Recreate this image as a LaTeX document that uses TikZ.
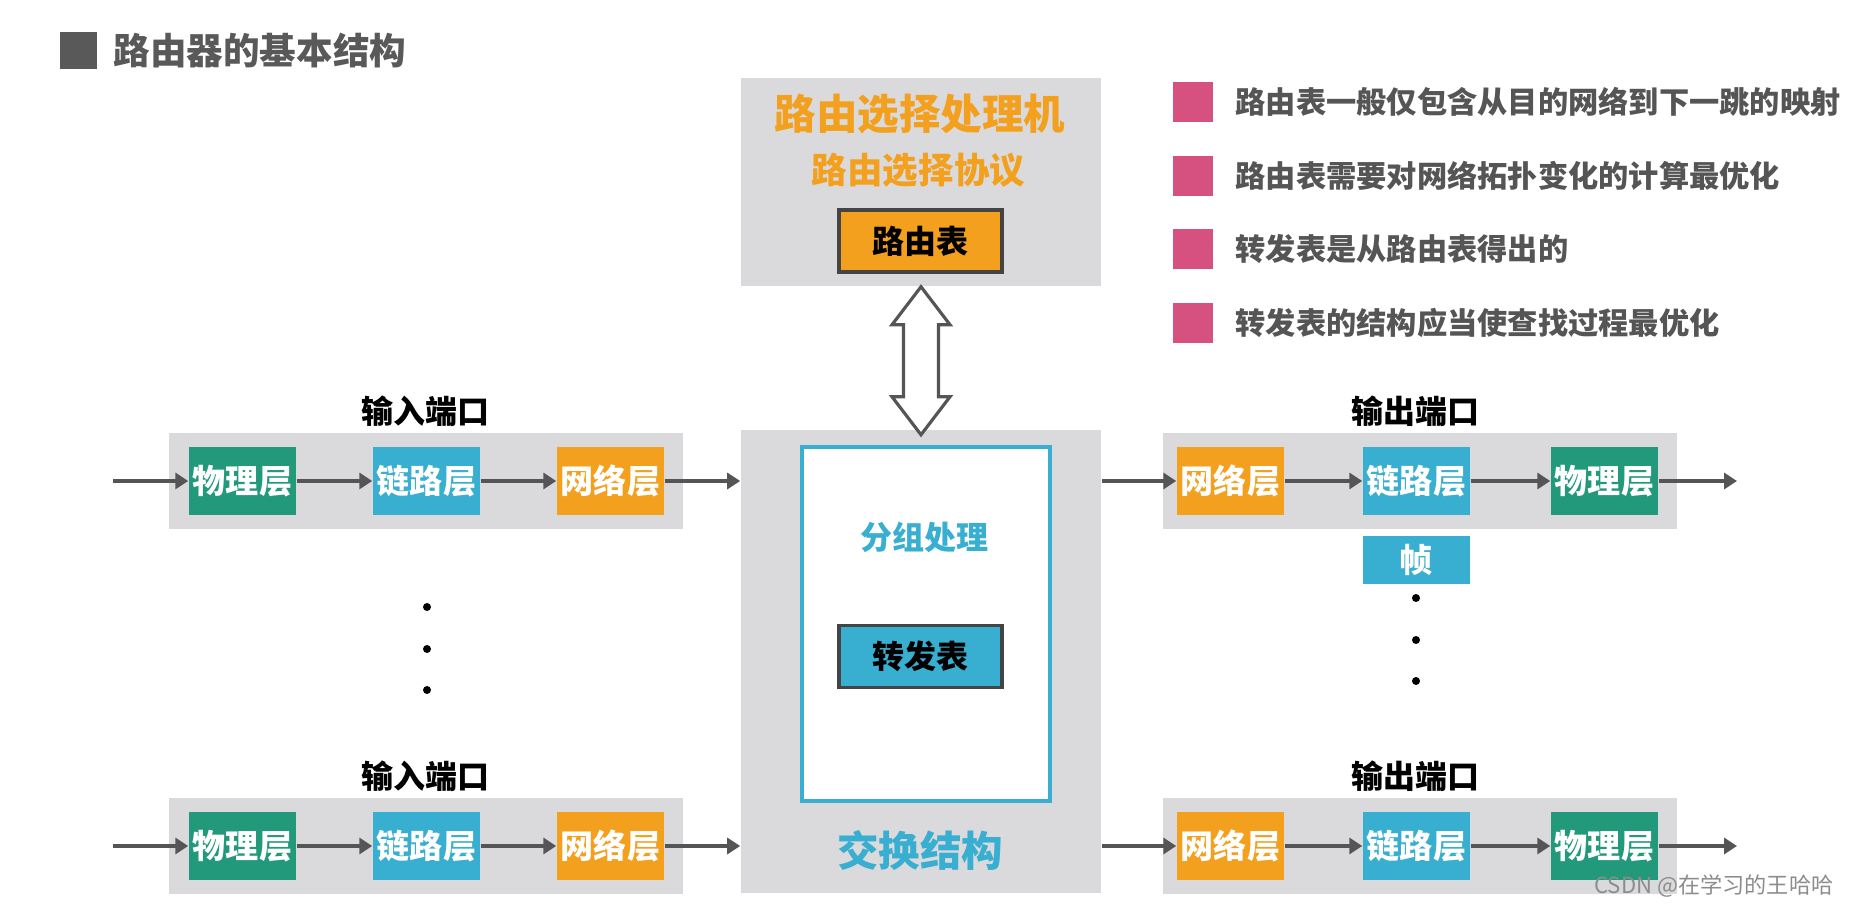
\documentclass[tikz,border=0pt]{standalone}
\usepackage{fontspec}
\setmainfont{Noto Sans CJK SC}
\usepackage{xcolor}
\definecolor{boxgray}{RGB}{218,218,220}
\definecolor{phygreen}{RGB}{33,153,122}
\definecolor{linkblue}{RGB}{56,174,208}
\definecolor{netorange}{RGB}{243,160,30}
\definecolor{arrowgray}{RGB}{85,85,85}
\definecolor{bordergray}{RGB}{68,68,68}
\definecolor{bulletpink}{RGB}{214,80,128}
\definecolor{notegray}{RGB}{85,85,85}
\usetikzlibrary{arrows.meta}
\newcommand{\pxfont}[1]{\fontsize{#1pt}{#1pt}\selectfont\bfseries}
\tikzset{
    common/.style={anchor=center, rectangle, inner sep=0pt},
    layer/.style={common, minimum width=1.07cm, minimum height=0.67cm, text=white, font=\pxfont{9.4}},
    physbox/.style={layer, fill=phygreen},
    linkbox/.style={layer, fill=linkblue},
    netbox/.style={layer, fill=netorange},
    portbox/.style={common, fill=boxgray, minimum width=5.14cm, minimum height=0.96cm},
    portlabel/.style={common, font=\pxfont{9.1}},
    unit/.style={common, fill=boxgray, minimum width=3.6cm},
    tablebox/.style={common, draw=bordergray, line width=1pt, minimum width=1.63cm, minimum height=0.62cm, font=\pxfont{9.1}},
    hollow/.style={draw=arrowgray, fill=white, line width=0.9pt, line join=miter},
    flow/.style={-{Triangle[length=1.3mm, width=1.6mm]}, line width=1.4pt, arrowgray},
    ellipsisdot/.style={circle, fill=black, inner sep=0pt, minimum size=0.08cm},
    bulletmark/.style={common, fill=bulletpink, minimum size=0.40cm},
    note/.style={common, anchor=west, text=notegray, font=\pxfont{8.6}}
}

\begin{document}
\begin{tikzpicture}[x=0.01cm, y=-0.01cm]
      \useasboundingbox (0,0) rectangle (1849,904);

      % title
      \path
          (78.5,50.5) node[common, fill=black!65, minimum size=0.37cm] (title-mark) {}
          (113,51) node[common, anchor=west, text=black!65, font=\pxfont{10.4}] (title) {路由器的基本结构};

      % routing processor
      \path
          (921,182) node[unit, minimum height=2.08cm] (proc) {}
          +(-1,-68) node[common, text=netorange, font=\pxfont{11.8}] (proc-name) {路由选择处理机}
          +(-2.5,-12) node[common, text=netorange, font=\pxfont{10.1}] (proc-proto) {路由选择协议}
          +(-0.5,59) node[tablebox, fill=netorange] (rtable) {路由表};

      % switch fabric
      \path
          (921,661.5) node[unit, minimum height=4.63cm] (switch) {}
          +(5,-37.5) node[common, draw=linkblue, fill=white, line width=1.1pt, minimum width=2.48cm, minimum height=3.54cm] (pkt) {}
          +(3,-124) node[common, text=linkblue, font=\pxfont{9.1}] (pkt-name) {分组处理}
          +(-0.5,-5) node[tablebox, fill=linkblue] (ftable) {转发表}
          +(-1,188.5) node[common, text=linkblue, font=\pxfont{11.8}] (switch-name) {交换结构};

      \draw[hollow] (proc.south) -- ++(29,38) -- ++(-11.5,0) -- ++(0,72) -- ++(11.5,0) -- ++(-29,38)
          -- ++(-29,-38) -- ++(11.5,0) -- ++(0,-72) -- ++(-11.5,0) -- cycle;

      % input and output ports
      \foreach \row/\y in {1/481, 2/846} {
          \path
              (426,\y) node[portbox] (in\row) {}
              +(-183.5,0) node[physbox] (in\row-phys) {物理层}
              +(0.5,0) node[linkbox] (in\row-link) {链路层}
              +(184.5,0) node[netbox] (in\row-net) {网络层}
              +(-0.5,-70) node[portlabel] (in\row-label) {输入端口}
              (113,\y) coordinate (in\row-src);
          \draw[flow] (in\row-src) -- (in\row-phys);
          \draw[flow] (in\row-phys) -- (in\row-link);
          \draw[flow] (in\row-link) -- (in\row-net);
          \draw[flow] (in\row-net) -- (in\row-net -| switch.west);

          \path
              (1420,\y) node[portbox] (out\row) {}
              +(-189.5,0) node[netbox] (out\row-net) {网络层}
              +(-3.5,0) node[linkbox] (out\row-link) {链路层}
              +(184.5,0) node[physbox] (out\row-phys) {物理层}
              +(-4.5,-70) node[portlabel] (out\row-label) {输出端口}
              (1737,\y) coordinate (out\row-dst);
          \draw[flow] (switch.east |- out\row-net) -- (out\row-net);
          \draw[flow] (out\row-net) -- (out\row-link);
          \draw[flow] (out\row-link) -- (out\row-phys);
          \draw[flow] (out\row-phys) -- (out\row-dst);
      }

      \path (1416.5,560) node[linkbox, minimum height=0.48cm] (frame) {帧};

      \foreach \i/\dy in {1/0, 2/42, 3/83} {
          \node[ellipsisdot] (in-dot-\i) at (427,607+\dy) {};
          \node[ellipsisdot] (out-dot-\i) at (1416,598+\dy) {};
      }

      % notes
      \foreach \i/\txt in {1/路由表一般仅包含从目的网络到下一跳的映射, 2/路由表需要对网络拓扑变化的计算最优化,
                           3/转发表是从路由表得出的, 4/转发表的结构应当使查找过程最优化} {
          \path
              (1192.5,{102+73.7*(\i-1)}) node[bulletmark] (mark-\i) {}
              (1235,{102+73.7*(\i-1)}) node[note] (note-\i) {\txt};
      }

      \node[common, anchor=east, text=black!45, font=\fontsize{6.3pt}{6.3pt}\selectfont] (mark) at (1834,886) {CSDN @在学习的王哈哈};
    \end{tikzpicture}
\end{document}
